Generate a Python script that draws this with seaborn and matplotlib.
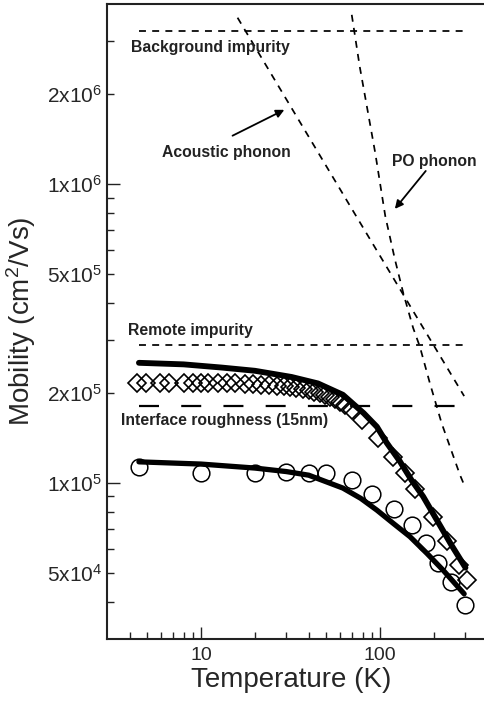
import matplotlib
matplotlib.use("Agg")
import matplotlib.pyplot as plt
import seaborn as sns
from matplotlib.ticker import FixedLocator, FixedFormatter, NullFormatter

# measured mobility, diamonds (upper sample)
diamond_T = [4.4, 4.9, 5.9, 6.6, 8, 9, 10, 11, 12.5, 14, 15.5, 17.5, 19.5, 21.5, 24, 26.5, 29,
             31.5, 34, 37, 40, 43, 46, 49, 52.5, 56, 60, 64, 70, 79, 97, 118, 137, 157,
             197, 236, 275, 305]
diamond_mu = [2.15e5, 2.15e5, 2.15e5, 2.15e5, 2.15e5, 2.15e5, 2.15e5, 2.15e5, 2.15e5, 2.15e5,
              2.15e5, 2.14e5, 2.14e5, 2.13e5, 2.12e5, 2.11e5, 2.10e5, 2.09e5, 2.08e5, 2.06e5,
              2.04e5, 2.02e5, 2.0e5, 1.97e5, 1.94e5, 1.91e5, 1.87e5, 1.82e5, 1.75e5, 1.62e5,
              1.41e5, 1.22e5, 1.075e5, 9.5e4, 7.7e4, 6.4e4, 5.3e4, 4.72e4]

# measured mobility, circles (lower sample)
circle_T = [4.5, 10, 20, 30, 40, 50, 70, 90, 120, 150, 180, 210, 250, 300]
circle_mu = [1.13e5, 1.075e5, 1.08e5, 1.09e5, 1.08e5, 1.08e5, 1.02e5, 9.2e4, 8.2e4, 7.2e4,
             6.3e4, 5.4e4, 4.65e4, 3.9e4]

# calculated total mobility (solid curves)
upper_fit_T = [4.5, 8, 13, 20, 32, 45, 62, 81, 96, 109, 129, 150, 174, 200, 250, 300]
upper_fit_mu = [2.52e5, 2.49e5, 2.43e5, 2.37e5, 2.26e5, 2.15e5, 1.97e5, 1.71e5, 1.54e5,
                1.36e5, 1.18e5, 1.02e5, 9.0e4, 7.8e4, 6.2e4, 5.2e4]
lower_fit_T = [4.5, 10, 20, 30, 40, 62, 78, 96, 119, 147, 183, 225, 295]
lower_fit_mu = [1.175e5, 1.155e5, 1.12e5, 1.09e5, 1.06e5, 9.6e4, 8.87e4, 8.1e4, 7.3e4,
                6.6e4, 5.8e4, 5.1e4, 4.25e4]

# individual scattering limits
background_T = [4.5, 300]
background_mu = [3.24e6, 3.24e6]
remote_T = [4.5, 300]
remote_mu = [2.9e5, 2.9e5]
roughness_T = [4.5, 300]
roughness_mu = [1.81e5, 1.81e5]
acoustic_T = [16, 70, 295]
acoustic_mu = [3.6e6, 8.2e5, 1.95e5]
po_T = [69.5, 77, 94, 107, 121, 135, 153, 167, 190, 221, 280, 298]
po_mu = [3.68e6, 2.47e6, 1.27e6, 7.8e5, 5.6e5, 4.3e5, 3.3e5, 2.85e5, 2.15e5, 1.58e5,
         1.06e5, 9.7e4]

x_major = [10, 100]
x_major_labels = ['10', '100']
x_minor = [4, 5, 6, 7, 8, 9, 20, 30, 40, 50, 60, 70, 80, 90, 200, 300]
y_major = [1e5, 1e6]
y_major_labels = ['1x10$^5$', '1x10$^6$']
y_minor = [4e4, 5e4, 6e4, 7e4, 8e4, 9e4, 2e5, 3e5, 4e5, 5e5, 6e5, 7e5, 8e5, 9e5, 2e6, 3e6]
y_minor_labels = ['', '5x10$^4$', '', '', '', '', '2x10$^5$', '', '', '5x10$^5$', '', '', '',
                  '', '2x10$^6$', '']

sns.set_style("ticks")
plt.rcParams['font.family'] = ['Liberation Sans', 'DejaVu Sans']
plt.rcParams['mathtext.default'] = 'regular'

fig = plt.figure(figsize=(4.84, 7.02), dpi=100)
ax = fig.add_axes([0.2219, 0.0897, 0.786, 0.9046])
ax.set_xscale('log')
ax.set_yscale('log')

short_dash = (0, (4, 3.6))
long_dash = (0, (9, 10))
for xs, ys in [(background_T, background_mu), (remote_T, remote_mu),
               (acoustic_T, acoustic_mu), (po_T, po_mu)]:
    sns.lineplot(x=xs, y=ys, ax=ax, color='k', lw=1.25, linestyle=short_dash,
                 estimator=None, sort=False)
sns.lineplot(x=roughness_T, y=roughness_mu, ax=ax, color='k', lw=1.6, linestyle=long_dash,
             estimator=None, sort=False)

# data points
sns.lineplot(x=diamond_T, y=diamond_mu, ax=ax, marker='D', linestyle='none', ms=9,
             mfc='none', mec='k', mew=1.2, estimator=None, sort=False)
sns.lineplot(x=circle_T, y=circle_mu, ax=ax, marker='o', linestyle='none', ms=12,
             mfc='none', mec='k', mew=1.1, estimator=None, sort=False)

# fits
sns.lineplot(x=upper_fit_T, y=upper_fit_mu, ax=ax, color='k', lw=4.2, estimator=None, sort=False)
sns.lineplot(x=lower_fit_T, y=lower_fit_mu, ax=ax, color='k', lw=3.8, estimator=None, sort=False)

ann = dict(fontsize=11.3, fontweight='bold', color='#222222')
ax.text(4.06, 2.86e6, 'Background impurity', ha='left', va='center', **ann)
ax.text(13.9, 1.27e6, 'Acoustic phonon', ha='center', va='center', **ann)
ax.text(202, 1.19e6, 'PO phonon', ha='center', va='center', **ann)
ax.text(3.93, 3.23e5, 'Remote impurity', ha='left', va='center', **ann)
ax.text(3.56, 1.61e5, 'Interface roughness (15nm)', ha='left', va='center', **ann)
arrow = dict(arrowstyle='-|>', color='k', lw=1.3, mutation_scale=12, shrinkA=0, shrinkB=0)
ax.annotate('', xy=(29.2, 1.77e6), xytext=(15.0, 1.45e6), arrowprops=arrow)
ax.annotate('', xy=(121, 8.25e5), xytext=(180, 1.105e6), arrowprops=arrow)

ax.set_xlim(3, 400)
ax.set_ylim(3e4, 4e6)

ax.xaxis.set_major_locator(FixedLocator(x_major))
ax.xaxis.set_major_formatter(FixedFormatter(x_major_labels))
ax.xaxis.set_minor_locator(FixedLocator(x_minor))
ax.xaxis.set_minor_formatter(NullFormatter())
ax.yaxis.set_major_locator(FixedLocator(y_major))
ax.yaxis.set_major_formatter(FixedFormatter(y_major_labels))
ax.yaxis.set_minor_locator(FixedLocator(y_minor))
ax.yaxis.set_minor_formatter(FixedFormatter(y_minor_labels))

ax.tick_params(which='both', direction='in', top=False, right=False, width=1.0, color='#222222')
ax.tick_params(which='major', length=9)
ax.tick_params(which='minor', length=5)
ax.tick_params(axis='x', which='both', labelsize=14, pad=6)
ax.tick_params(axis='y', which='both', labelsize=15, pad=4)

for side in ['left', 'bottom', 'top']:
    ax.spines[side].set_linewidth(1.5)
    ax.spines[side].set_color('#222222')
ax.spines['right'].set_visible(False)

ax.set_xlabel('Temperature (K)', fontsize=20, labelpad=2)
ax.set_ylabel('Mobility (cm$^2$/Vs)', fontsize=20, labelpad=6)
ax.xaxis.label.set_x(0.482)

fig.savefig('out.png', dpi=100)
